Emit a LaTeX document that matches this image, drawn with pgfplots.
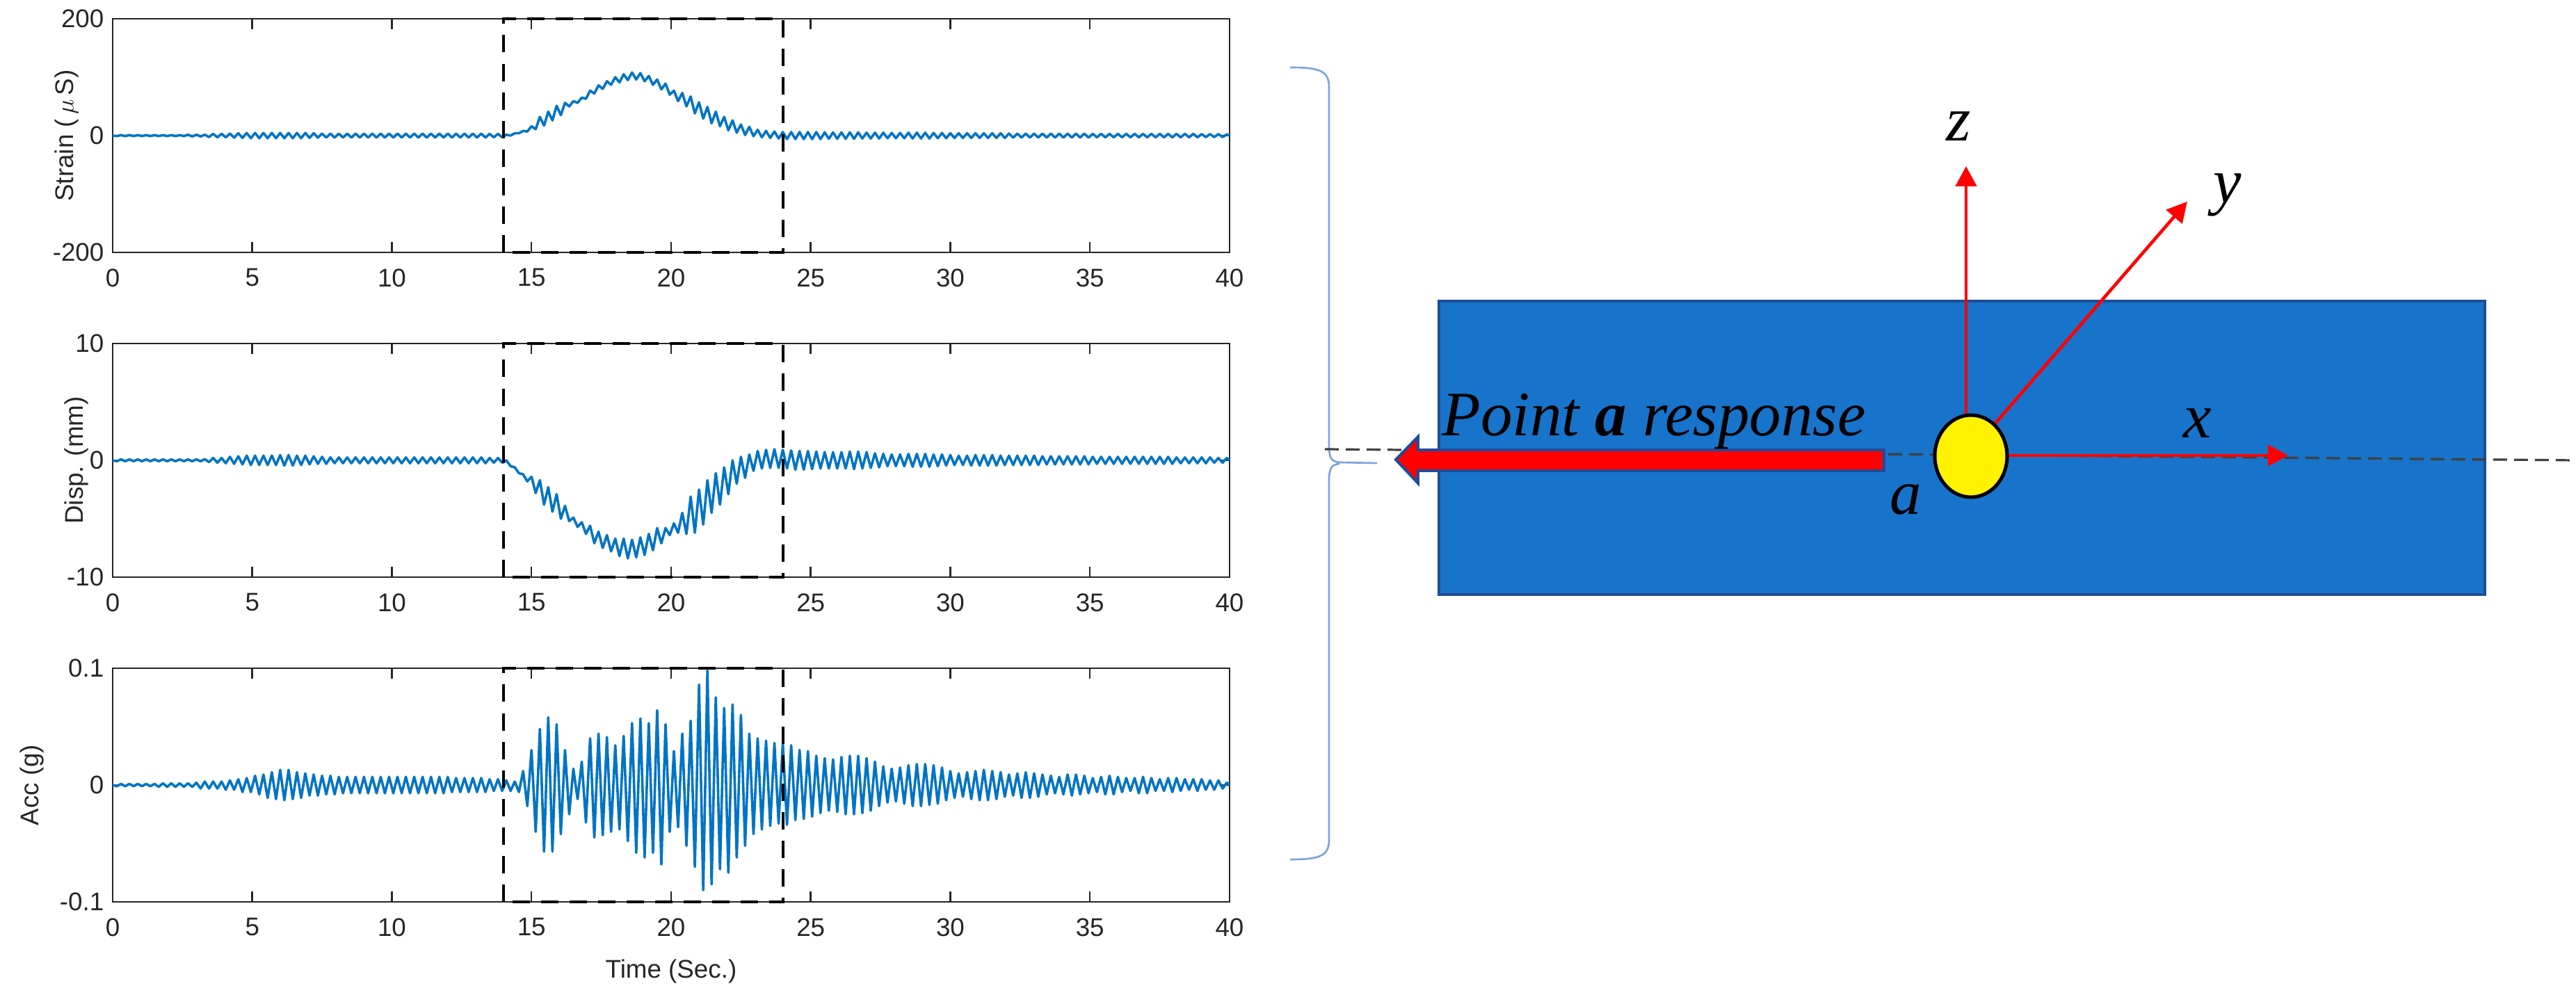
\documentclass[border=0pt]{standalone}
\usepackage{fontspec}
\setmainfont{Liberation Sans}
\newfontfamily\tnr{Liberation Serif}
\usepackage{pgfplots}
\usepackage{pgfplotstable}
\pgfplotsset{compat=1.18}
\usetikzlibrary{arrows.meta}

\definecolor{mblue}{RGB}{0,116,196}
\definecolor{plate}{RGB}{24,115,202}
\definecolor{plateedge}{RGB}{30,78,150}
\definecolor{bracecol}{RGB}{125,163,222}
\definecolor{arrowedge}{RGB}{28,76,155}

% t = time (s), s = strain (micro strain), d = displacement (mm), a = acceleration (g)
\pgfplotstableread{
t s d a
0 0 0 0
0.15 -0.8 -0.08 -0.001
0.3 0.8 0.08 0.001
0.45 -0.8 -0.08 -0.001
0.6 0.8 0.08 0.001
0.75 -0.8 -0.08 -0.001
0.9 0.8 0.08 0.001
1.05 -0.8 -0.08 -0.001
1.2 0.8 0.08 0.001
1.35 -0.8 -0.08 -0.001
1.5 0.8 0.08 0.001
1.65 -0.8 -0.08 -0.0015
1.8 0.8 0.08 0.0015
1.95 -0.8 -0.08 -0.0015
2.1 0.8 0.08 0.0015
2.25 -0.8 -0.08 -0.0015
2.4 0.8 0.08 0.0015
2.55 -0.8 -0.08 -0.0015
2.7 1.5 0.08 0.0015
2.85 -1.5 -0.08 -0.0015
3 1.5 0.08 0.002
3.15 -1.5 -0.08 -0.003
3.3 1.5 0.1 0.003
3.45 -2.5 -0.15 -0.003
3.6 3 0.2 0.003
3.75 -3 -0.2 -0.003
3.9 3 0.2 0.003
4.05 -3 -0.25 -0.004
4.2 3.5 0.3 0.004
4.35 -3.5 -0.3 -0.004
4.5 4 0.35 0.005
4.65 -4 -0.35 -0.006
4.8 4.5 0.4 0.006
4.95 -4.5 -0.4 -0.006
5.1 4.5 0.4 0.008
5.25 -4.5 -0.4 -0.008
5.4 4.5 0.4 0.009
5.55 -4.5 -0.4 -0.011
5.7 4.5 0.4 0.011
5.85 -4.5 -0.4 -0.012
6 4.5 0.45 0.013
6.15 -4.5 -0.45 -0.013
6.3 4.5 0.45 0.013
6.45 -4.5 -0.45 -0.012
6.6 4.5 0.4 0.011
6.75 -4.5 -0.4 -0.011
6.9 4.5 0.4 0.01
7.05 -4 -0.35 -0.009
7.2 4 0.35 0.009
7.35 -3.5 -0.3 -0.009
7.5 3.5 0.3 0.008
7.65 -3.5 -0.3 -0.008
7.8 3.5 0.25 0.008
7.95 -3.5 -0.25 -0.008
8.1 3.5 0.25 0.007
8.25 -3.5 -0.25 -0.007
8.4 3.5 0.25 0.007
8.55 -3.5 -0.25 -0.007
8.7 3.5 0.25 0.007
8.85 -3.5 -0.25 -0.007
9 3.5 0.25 0.007
9.15 -3.5 -0.25 -0.007
9.3 3.5 0.25 0.007
9.45 -3.5 -0.25 -0.007
9.6 3.5 0.25 0.007
9.75 -3.5 -0.25 -0.007
9.9 3.5 0.25 0.007
10.05 -3.5 -0.25 -0.007
10.2 3.5 0.25 0.007
10.35 -3.5 -0.25 -0.007
10.5 3.5 0.25 0.007
10.65 -3.5 -0.25 -0.007
10.8 3.5 0.25 0.007
10.95 -3.5 -0.25 -0.007
11.1 3.5 0.25 0.007
11.25 -3.5 -0.25 -0.007
11.4 3.5 0.25 0.007
11.55 -3.5 -0.25 -0.007
11.7 3.5 0.25 0.007
11.85 -3.5 -0.25 -0.007
12 3.5 0.25 0.007
12.15 -3.5 -0.25 -0.006
12.3 3.5 0.25 0.006
12.45 -3.5 -0.25 -0.006
12.6 3.5 0.25 0.006
12.75 -3.5 -0.25 -0.006
12.9 3.5 0.25 0.006
13.05 -3.5 -0.25 -0.006
13.2 3.5 0.25 0.006
13.35 -3.5 -0.25 -0.006
13.5 3 0.2 0.005
13.65 -3 -0.2 -0.005
13.8 3 0.2 0.005
13.95 -3 -0.2 -0.005
14.1 1.5 0 0.004
14.25 0 -0.5 -0.005
14.4 4 -0.6 0.003
14.55 4 -1.1 -0.006
14.7 8 -1.2 0.012
14.85 7 -1.8 -0.018
15 16 -1.4 0.03
15.15 11 -2.8 -0.04
15.3 32 -1.7 0.048
15.45 17 -3.8 -0.057
15.6 41 -2.3 0.058
15.75 26 -4.4 -0.057
15.9 51 -2.9 0.052
16.05 35 -5 -0.042
16.2 56 -3.9 0.03
16.35 50 -5.2 -0.025
16.5 59 -4.9 0.014
16.65 56 -5.7 -0.012
16.8 65 -5.3 0.02
16.95 63 -6.3 -0.032
17.1 77 -5.6 0.04
17.25 72 -7.1 -0.045
17.4 86 -6.1 0.044
17.55 80 -7.5 -0.043
17.7 93 -6.4 0.041
17.85 87 -7.8 -0.04
18 100 -6.7 0.034
18.15 91 -8.2 -0.038
18.3 105 -6.7 0.042
18.45 95 -8.4 -0.048
18.6 108 -6.8 0.053
18.75 96 -8.3 -0.058
18.9 107 -6.6 0.057
19.05 93 -8.1 -0.062
19.2 102 -6.3 0.053
19.35 87 -7.7 -0.058
19.5 96 -5.8 0.064
19.65 79 -7.1 -0.068
19.8 89 -5.8 0.052
19.95 70 -6.4 -0.04
20.1 77 -5.4 0.029
20.25 59 -6.2 -0.036
20.4 73 -4.5 0.044
20.55 50 -6.3 -0.052
20.7 67 -3.1 0.055
20.85 38 -6.2 -0.07
21 57 -2.5 0.086
21.15 29 -5.5 -0.09
21.3 49 -1.7 0.098
21.45 21 -4.5 -0.085
21.6 41 -1.1 0.075
21.75 16 -3.8 -0.072
21.9 32 -0.6 0.066
22.05 9 -2.9 -0.075
22.2 26 0 0.069
22.35 5 -2 -0.062
22.5 19 0.3 0.06
22.65 1 -1.5 -0.052
22.8 15 0.5 0.044
22.95 -1 -0.9 -0.042
23.1 10 0.8 0.04
23.25 -3 -0.7 -0.038
23.4 8 0.9 0.038
23.55 -4 -0.65 -0.035
23.7 7 0.95 0.036
23.85 -5 -0.65 -0.033
24 6 0.9 0.036
24.15 -6 -0.7 -0.034
24.3 6 0.85 0.034
24.45 -6 -0.8 -0.03
24.6 6 0.8 0.03
24.75 -6 -0.8 -0.029
24.9 6 0.8 0.029
25.05 -6 -0.75 -0.027
25.2 6 0.75 0.025
25.35 -6 -0.7 -0.024
25.5 5.5 0.7 0.023
25.65 -5.5 -0.7 -0.022
25.8 5.5 0.7 0.022
25.95 -5.5 -0.7 -0.023
26.1 5.5 0.7 0.024
26.25 -5.5 -0.7 -0.025
26.4 5.5 0.75 0.025
26.55 -5.5 -0.75 -0.025
26.7 5.5 0.75 0.025
26.85 -5 -0.7 -0.024
27 5 0.7 0.023
27.15 -5 -0.65 -0.022
27.3 5 0.6 0.02
27.45 -5 -0.6 -0.018
27.6 5 0.55 0.016
27.75 -4.5 -0.5 -0.015
27.9 4.5 0.5 0.014
28.05 -4.5 -0.5 -0.014
28.2 4.5 0.5 0.015
28.35 -4.5 -0.5 -0.016
28.5 5 0.55 0.017
28.65 -5 -0.55 -0.018
28.8 5 0.55 0.018
28.95 -5 -0.55 -0.018
29.1 5 0.55 0.018
29.25 -5 -0.55 -0.017
29.4 4.5 0.5 0.017
29.55 -4.5 -0.5 -0.016
29.7 4.5 0.5 0.015
29.85 -4.5 -0.45 -0.013
30 4 0.45 0.012
30.15 -4 -0.4 -0.011
30.3 4 0.4 0.01
30.45 -4 -0.4 -0.01
30.6 4 0.4 0.011
30.75 -4 -0.45 -0.012
30.9 4 0.45 0.012
31.05 -4 -0.45 -0.013
31.2 4 0.45 0.013
31.35 -4 -0.45 -0.013
31.5 4 0.45 0.012
31.65 -4 -0.45 -0.012
31.8 4 0.4 0.011
31.95 -4 -0.4 -0.01
32.1 3.5 0.4 0.009
32.25 -3.5 -0.4 -0.009
32.4 3.5 0.4 0.01
32.55 -3.5 -0.4 -0.011
32.7 3.5 0.4 0.011
32.85 -3.5 -0.4 -0.011
33 3.5 0.4 0.01
33.15 -3.5 -0.4 -0.01
33.3 3.5 0.35 0.009
33.45 -3.5 -0.35 -0.008
33.6 3.5 0.35 0.008
33.75 -3.5 -0.35 -0.007
33.9 3.5 0.35 0.007
34.05 -3.5 -0.35 -0.008
34.2 3.5 0.35 0.009
34.35 -3.5 -0.35 -0.009
34.5 3.5 0.35 0.009
34.65 -3.5 -0.35 -0.008
34.8 3.5 0.35 0.008
34.95 -3.5 -0.35 -0.007
35.1 3 0.3 0.006
35.25 -3 -0.3 -0.006
35.4 3 0.3 0.007
35.55 -3 -0.3 -0.008
35.7 3 0.3 0.008
35.85 -3 -0.3 -0.008
36 3 0.3 0.007
36.15 -3 -0.3 -0.006
36.3 3 0.3 0.006
36.45 -3 -0.3 -0.005
36.6 3 0.3 0.006
36.75 -3 -0.3 -0.007
36.9 3 0.3 0.007
37.05 -3 -0.3 -0.007
37.2 3 0.3 0.006
37.35 -3 -0.3 -0.005
37.5 3 0.3 0.005
37.65 -3 -0.3 -0.005
37.8 3 0.3 0.006
37.95 -3 -0.3 -0.006
38.1 3 0.25 0.006
38.25 -3 -0.25 -0.005
38.4 3 0.25 0.005
38.55 -3 -0.25 -0.004
38.7 3 0.25 0.005
38.85 -3 -0.25 -0.005
39 2.5 0.25 0.005
39.15 -2.5 -0.25 -0.004
39.3 2.5 0.25 0.004
39.45 -2.5 -0.2 -0.004
39.6 2.5 0.2 0.004
39.75 -2.5 -0.2 -0.003
39.9 2 0.2 0.002
40 0 0 0
}\resptab

\pgfplotsset{
    sigax/.style={
        scale only axis,
        width=449.68pt,
        height=94.08pt,
        anchor=south west,
        xmin=0, xmax=40,
        xtick={0,5,...,40},
        xtick pos=both, ytick pos=both,
        xticklabel pos=lower, yticklabel pos=left,
        tick align=inside,
        major tick length=4.2pt,
        axis line style={black!85, line width=0.8pt},
        every tick/.style={black!85, line width=0.7pt},
        tick label style={font=\fontsize{10.3}{12}\selectfont, text=black!85},
        xticklabel style={yshift=-3pt},
        label style={font=\fontsize{10.3}{12}\selectfont, text=black!85},
        ylabel style={anchor=center},
        /pgf/number format/assume math mode=true,
        scaled y ticks=false,
        clip=false
    },
    sig/.style={mblue, line width=1pt, line join=round},
    box/.style={black, line width=1.1pt, dash pattern=on 7pt off 4.5pt}
}

\begin{document}
\begin{tikzpicture}
\useasboundingbox (0,0) rectangle (1037.12pt,-403.48pt);

% strain
\begin{axis}[sigax, at={(45.36pt,-101.64pt)},
    ymin=-200, ymax=200, ytick={-200,0,200},
    ylabel={Strain (\,$\mu$\,S)},
    ylabel style={at={(axis description cs:-0.0411,0.5)}}]
\addplot[sig] table[x=t, y=s] {\resptab};
\addplot[box] coordinates {(14,-200) (14,200) (24,200) (24,-200) (14,-200)};
\end{axis}

% displacement
\begin{axis}[sigax, at={(45.36pt,-232.4pt)},
    ymin=-10, ymax=10, ytick={-10,0,10},
    ylabel={Disp. (mm)},
    ylabel style={at={(axis description cs:-0.0325,0.5)}}]
\addplot[sig] table[x=t, y=d] {\resptab};
\addplot[box] coordinates {(14,-10) (14,10) (24,10) (24,-10) (14,-10)};
\end{axis}

% acceleration
\begin{axis}[sigax, at={(45.36pt,-363.16pt)},
    ymin=-0.1, ymax=0.1, ytick={-0.1,0,0.1},
    ylabel={Acc (g)},
    ylabel style={at={(axis description cs:-0.0723,0.5)}},
    xlabel={Time (Sec.)},
    xlabel style={at={(axis description cs:0.5,-0.298)}, anchor=center}]
\addplot[sig] table[x=t, y=a] {\resptab};
\addplot[box] coordinates {(14,-0.1) (14,0.1) (24,0.1) (24,-0.1) (14,-0.1)};
\end{axis}

% sketch of the plate and point a, in pixel units of the reference
\begin{scope}[x=0.28pt, y=-0.28pt]
    \draw[bracecol, line width=0.75pt]
        (1855,97) .. controls (1898,97) and (1911,102) .. (1911,125)
        -- (1911,640) .. controls (1911,658) and (1914,664) .. (1926,665)
        -- (1980,666);
    \draw[bracecol, line width=0.75pt]
        (1926,667) .. controls (1914,668) and (1911,674) .. (1911,692)
        -- (1911,1208) .. controls (1911,1231) and (1898,1236) .. (1855,1236);

    \filldraw[fill=plate, draw=plateedge, line width=1pt] (2069,433) rectangle (3573,855);

    \draw[black!75, line width=0.9pt, dash pattern=on 5.6pt off 2.8pt] (1905,646) -- (3704,662);

    \draw[red, line width=1.3pt, -{Triangle[length=8.1pt, width=8.4pt]}] (2827,640) -- (2827,239);
    \draw[red, line width=1.3pt, -{Triangle[length=8.1pt, width=8.4pt]}] (2855,625) -- (3145,290);
    \draw[red, line width=1.3pt, -{Triangle[length=8.1pt, width=8.4pt]}] (2860,655) -- (3290,655);

    \filldraw[fill=red, draw=arrowedge, line width=1.1pt, line join=miter]
        (2709,647) -- (2039,647) -- (2039,628) -- (2007,661)
        -- (2039,695) -- (2039,677) -- (2709,677) -- cycle;

    \filldraw[fill=yellow, draw=black, line width=1.4pt] (2834,656) ellipse [x radius=14.56pt, y radius=16.52pt];

    \begin{scope}[every node/.style={font=\tnr\fontsize{25.5}{30}\selectfont\itshape, inner sep=0pt, text=black}]
        \node[anchor=base west] at (2073,627) {Point \textbf{a} response};
        \node[anchor=base] at (2816,203) {z};
        \node[anchor=base] at (3203,292) {y};
        \node[anchor=base] at (3160,630) {x};
        \node[anchor=base] at (2740,740) {a};
    \end{scope}
\end{scope}
\end{tikzpicture}
\end{document}
